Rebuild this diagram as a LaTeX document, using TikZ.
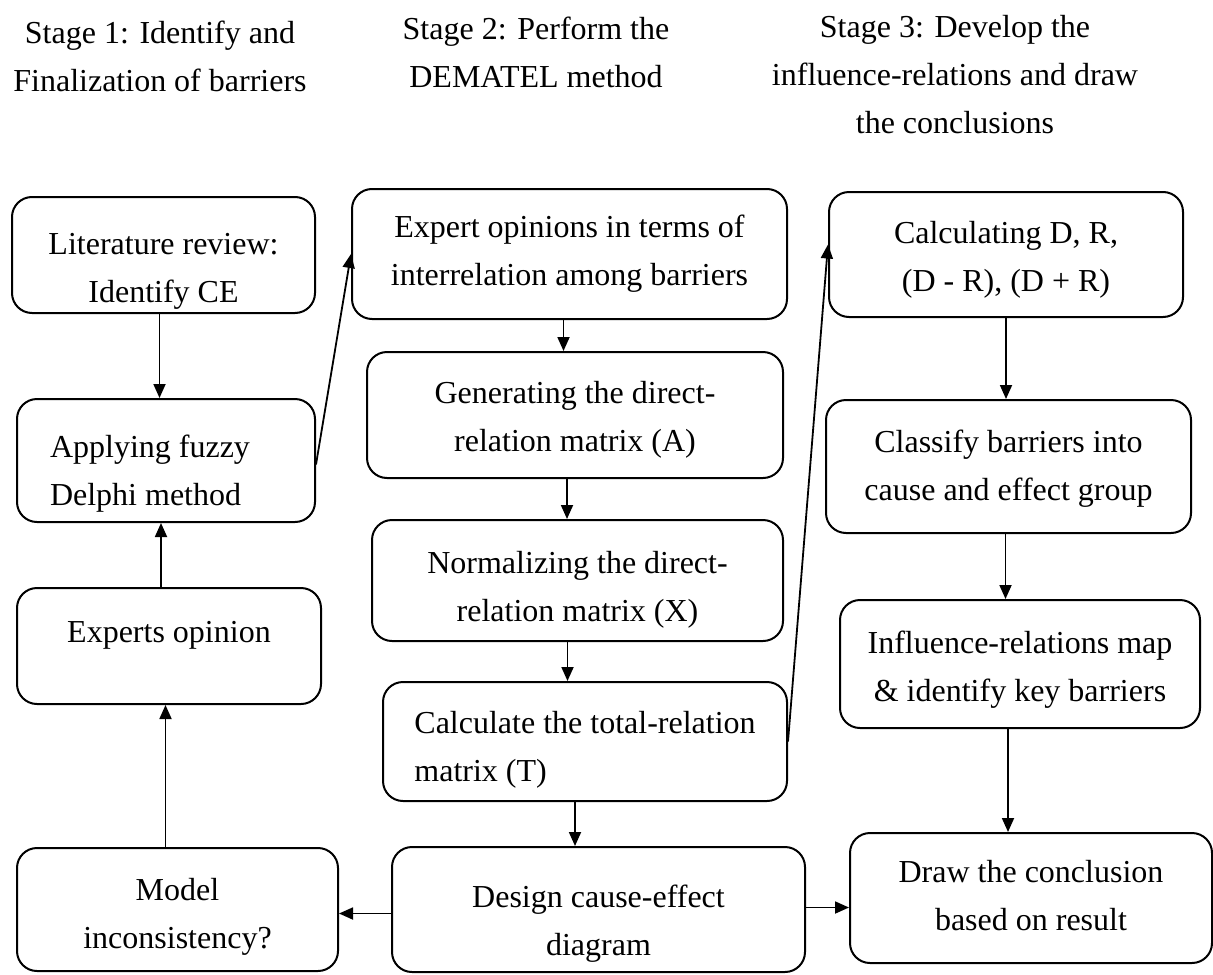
\documentclass[tikz,border=0pt]{standalone}
\usepackage{fontspec}
\setmainfont{Liberation Serif}
\usepackage{tikz}
\usetikzlibrary{arrows.meta}
\tikzset{
	stepbox/.style={rectangle, rounded corners=10pt, draw=black, line width=1pt, inner sep=0pt},
	steptext/.style={align=center, inner sep=0pt, font=\fontsize{16}{24}\selectfont, execute at begin node=\strut, execute at end node=\strut},
	flow/.style={-{Triangle[length=7pt,width=6pt]}, line width=0.9pt}
}

\begin{document}
\begin{tikzpicture}[x=0.5pt, y=-0.5pt]
	\useasboundingbox (0,0) rectangle (1213,974);
	
	% stage titles
	\node[steptext] (stageA) at (160,63) {Stage 1: Identify and\\Finalization of barriers};
	\node[steptext] (stageB) at (536,59) {Stage 2: Perform the\\DEMATEL method};
	\node[steptext] (stageC) at (955,82) {Stage 3: Develop the\\influence-relations and draw\\the conclusions};
	
	% stage 1
	\node[stepbox, minimum width=151.5pt, minimum height=58pt, label={[steptext, yshift=-10pt]center:{Literature review:\\Identify CE}}] (lit) at (163.5,255) {};
	\node[stepbox, minimum width=149pt, minimum height=61.5pt, label={[steptext, align=left, xshift=-8pt, yshift=-8.25pt]center:{Applying fuzzy\\Delphi method}}] (fuzzy) at (166,460.5) {};
	\node[stepbox, minimum width=152pt, minimum height=58pt, label={[steptext, yshift=6.5pt]center:{Experts opinion}}] (experts) at (169,646) {};
	\node[stepbox, minimum width=160.5pt, minimum height=61.5pt, label={[steptext, yshift=-5.5pt]center:{Model\\inconsistency?}}] (model) at (177.5,909.5) {};
	
	% stage 2
	\node[stepbox, minimum width=217.5pt, minimum height=65pt, label={[steptext, yshift=-1.5pt]center:{Expert opinions in terms of\\interrelation among barriers}}] (opinions) at (569.5,254) {};
	\node[stepbox, minimum width=208pt, minimum height=63pt, label={[steptext, yshift=-4.5pt]center:{Generating the direct-\\relation matrix (A)}}] (gen) at (575,415) {};
	\node[stepbox, minimum width=205.5pt, minimum height=60.5pt, label={[steptext, yshift=-6.5pt]center:{Normalizing the direct-\\relation matrix (X)}}] (norm) at (577.5,580.5) {};
	\node[stepbox, minimum width=202pt, minimum height=59.5pt, label={[steptext, align=left, yshift=-6pt]center:{Calculate the total-relation\\matrix (T)}}] (total) at (585,741.5) {};
	\node[stepbox, minimum width=206.5pt, minimum height=62.5pt, label={[steptext, yshift=-9pt]center:{Design cause-effect\\diagram}}] (design) at (598.5,909.5) {};
	
	% stage 3
	\node[stepbox, minimum width=177pt, minimum height=62.5pt, label={[steptext, yshift=-4.5pt]center:{Calculating D, R,\\(D - R), (D + R)}}] (calcDR) at (1006,254.5) {};
	\node[stepbox, minimum width=182.5pt, minimum height=66.5pt, label={[steptext, yshift=-3pt]center:{Classify barriers into\\cause and effect group}}] (classify) at (1008.5,466.5) {};
	\node[stepbox, minimum width=180pt, minimum height=64pt, label={[steptext, yshift=-4.5pt]center:{Influence-relations map\\\& identify key barriers}}] (influence) at (1020,664) {};
	\node[stepbox, minimum width=181pt, minimum height=65pt, label={[steptext, yshift=-2.5pt]center:{Draw the conclusion\\based on result}}] (conclusion) at (1031,898) {};
	
	% arrows
	\draw[flow] ([xshift=-2pt]lit.south) -- ([xshift=-2pt]lit.south |- fuzzy.north);
	\draw[flow] ([yshift=-2pt]fuzzy.east) -- (opinions.west);
	\draw[flow] ([xshift=-4pt]experts.north) -- ([xshift=-4pt]experts.north |- fuzzy.south);
	\draw[flow] ([xshift=-6pt]model.north) -- ([xshift=-6pt]model.north |- experts.south);
	\draw[flow] ([yshift=-2pt]design.west) -- ([yshift=-2pt]design.west -| model.east);
	\draw[flow] ([xshift=-3pt]opinions.south) -- ([xshift=-3pt]opinions.south |- gen.north);
	\draw[flow] ([xshift=-4pt]gen.south) -- ([xshift=-4pt]gen.south |- norm.north);
	\draw[flow] ([xshift=-5pt]norm.south) -- ([xshift=-5pt]norm.south |- total.north);
	\draw[flow] ([xshift=-5pt]total.south) -- ([xshift=-5pt]total.south |- design.north);
	\draw[flow] (total.east) -- ([yshift=5pt]calcDR.west);
	\draw[flow] ([yshift=1pt]design.east) -- ([yshift=1pt]design.east -| conclusion.west);
	\draw[flow] (calcDR.south) -- (calcDR.south |- classify.north);
	\draw[flow] ([xshift=-1.5pt]classify.south) -- ([xshift=-1.5pt]classify.south |- influence.north);
	\draw[flow] ([xshift=-6pt]influence.south) -- ([xshift=-6pt]influence.south |- conclusion.north);
\end{tikzpicture}
\end{document}
